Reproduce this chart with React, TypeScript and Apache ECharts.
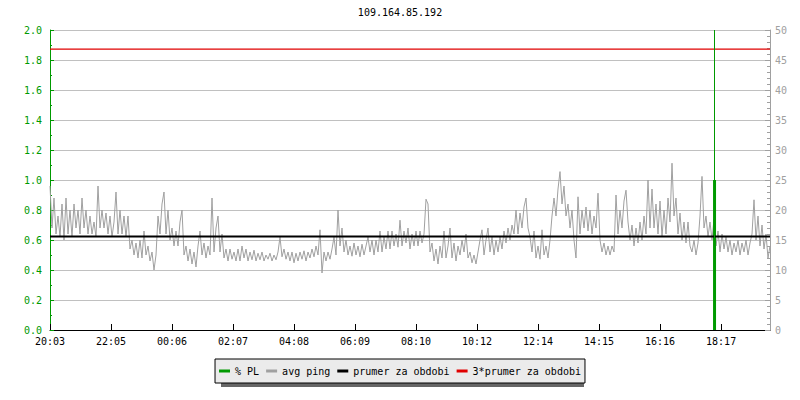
import React, { useEffect, useRef } from "react";
import * as echarts from "echarts";

const TITLE = "109.164.85.192";
const timeLabels = ["20:03", "22:05", "00:06", "02:07", "04:08", "06:09", "08:10", "10:12", "12:14", "14:15", "16:16", "18:17"];
const TICK_STEP_MIN = 121;
const SPAN_MIN = 1428;
const PING_STEP_MIN = SPAN_MIN / 360;

// avg ping (ms, right axis), one reading every PING_STEP_MIN minutes
const pingValues = [
  24, 17, 22, 16, 19, 15.5, 21, 15, 22, 16,
  20, 15.5, 21, 17, 20, 16, 22, 17, 20, 16,
  19, 16, 18, 15.5, 24, 17, 20, 17, 19.5, 16,
  19, 15.5, 18, 23, 16, 20, 16, 19, 15.5, 19,
  13.5, 15, 12.5, 14.5, 12, 15, 12, 16.5, 12.5, 14,
  11.5, 13, 10, 12.5, 19, 16, 21, 23, 16, 20,
  15, 17, 14, 16.5, 14, 18, 20, 12.5, 14, 11.5,
  13.5, 11, 13, 10.5, 14, 16.5, 12.5, 14.5, 12, 14,
  12.5, 22, 13, 17, 19, 13, 16, 12, 13.5, 11.5,
  13.5, 11.8, 13, 11.5, 13.5, 11.5, 14, 12, 13.5, 11.5,
  13, 11.7, 13.3, 11.5, 12.8, 11.7, 13, 11.5, 12.5, 11.8,
  12.8, 11.5, 12.5, 11.7, 13, 15.5, 12.2, 13.5, 11.8, 13,
  11.5, 13, 11.2, 12.8, 11.5, 13, 11.8, 13.2, 11.5, 13,
  12, 13.5, 12.2, 14, 12.5, 16.7, 9.5, 13, 11.5, 13,
  11.8, 13.5, 15.5, 12.5, 20, 14, 17, 13, 15, 12.5,
  14, 12.3, 14.5, 12.5, 14, 12.2, 14.3, 12.5, 14, 15.5,
  13, 15, 12.5, 15, 13, 16.5, 13, 15.5, 13.5, 16.5,
  13.5, 16.5, 14, 16, 13.8, 18.3, 14, 16.5, 14.5, 17,
  13.5, 16, 14, 16.5, 14, 16.5, 14.5, 16, 21.8, 21,
  13, 14.5, 11.5, 13.5, 11, 14, 12, 16.5, 12, 14,
  17, 12, 14.5, 11.5, 14, 12.5, 15, 13, 16, 12,
  13, 11.2, 12.5, 11, 13, 15, 16.7, 12.5, 15, 17,
  13, 15.5, 12.5, 15, 13, 15.5, 13.5, 16.5, 14.5, 17,
  15, 17.5, 16, 20, 16, 19.5, 17, 20.5, 22, 17,
  15.5, 13, 16.5, 12, 14, 11.8, 16.7, 12.5, 14, 12,
  15, 19, 22, 19, 23.5, 26.4, 21, 24, 19, 21,
  17, 20, 15, 12, 22.2, 16, 20, 17, 20.5, 16.5,
  20, 16, 19, 17, 22.8, 15, 13, 14.5, 12.5, 14,
  12.5, 14, 13, 22.5, 16, 20, 17, 21.5, 23.3, 18,
  15, 17.5, 14, 17, 14.5, 18, 15, 19, 16, 25,
  17, 23.5, 17, 21, 16, 21.5, 15.5, 20, 16, 22,
  18, 27.8, 19, 22, 16, 19.5, 15, 18, 14.5, 18,
  14, 13, 15, 12.5, 14.5, 19, 25.6, 17, 19, 15.5,
  18, 15, 18.5, 14, 16.5, 13, 16, 13.5, 15.5, 13,
  15, 12.5, 14.5, 13, 15, 12.5, 14.5, 13, 15, 12.5,
  14.5, 16, 21.7, 15, 19, 14, 17.5, 13.5, 16, 12,
  14,
];

const avgPing = 15.6;
const plTimes = [1318];
const plValues = [1.0];

export default function App() {
  const ref = useRef<HTMLDivElement>(null);
  useEffect(() => {
    const chart = echarts.init(ref.current!, null, { renderer: "svg" });
    const font = "DejaVu Sans Mono";
    const green = "#009900";
    const gray = "#a0a0a0";
    const option: any = {
      animation: false,
      backgroundColor: "#ffffff",
      title: {
        text: TITLE,
        left: "center",
        top: 2,
        textStyle: { fontFamily: font, fontSize: 10, fontWeight: "normal", color: "#000" },
      },
      grid: { left: 50, right: 30, top: 30, bottom: 70 },
      legend: {
        data: ["% PL", "avg ping", "prumer za obdobi", "3*prumer za obdobi"],
        left: "center",
        top: 359,
        icon: "rect",
        itemWidth: 11,
        itemHeight: 3,
        itemGap: 7,
        padding: [7, 4],
        backgroundColor: "#ebebeb",
        borderColor: "#000",
        borderWidth: 1,
        borderRadius: 0,
        z: 10,
        textStyle: { fontFamily: font, fontSize: 10, color: "#000" },
      },
      graphic: [
        {
          type: "rect",
          z: 1,
          shape: { x: 221, y: 363, width: 363, height: 24 },
          style: { fill: "#666" },
        },
      ],
      xAxis: {
        type: "value",
        min: 0,
        max: SPAN_MIN,
        interval: TICK_STEP_MIN,
        axisLine: { lineStyle: { color: "#000", width: 1 } },
        axisTick: { inside: true, length: 6, lineStyle: { color: "#000" } },
        axisLabel: {
          fontFamily: font,
          fontSize: 10,
          color: "#000",
          margin: 6,
          showMaxLabel: false,
          formatter: (v: number) => {
            const k = Math.round(v / TICK_STEP_MIN);
            return Math.abs(v - k * TICK_STEP_MIN) < 0.01 ? timeLabels[k] ?? "" : "";
          },
        },
        splitLine: { show: false },
      },
      yAxis: [
        {
          type: "value",
          position: "left",
          min: 0,
          max: 2,
          interval: 0.2,
          axisLine: { show: true, lineStyle: { color: green } },
          axisTick: { show: true, inside: true, length: 4, lineStyle: { color: green } },
          minorTick: { show: true, splitNumber: 2, length: 2, lineStyle: { color: green } },
          axisLabel: { color: green, fontFamily: font, fontSize: 10, margin: 8, formatter: (v: number) => v.toFixed(1) },
          splitLine: { show: true, lineStyle: { color: "#c0c0c0", width: 1 } },
        },
        {
          type: "value",
          position: "right",
          min: 0,
          max: 50,
          interval: 5,
          axisLine: { show: true, lineStyle: { color: gray } },
          axisTick: { show: true, inside: true, length: 5, lineStyle: { color: gray } },
          minorTick: { show: true, splitNumber: 5, length: 3, lineStyle: { color: gray } },
          axisLabel: { color: gray, fontFamily: font, fontSize: 10, margin: 5 },
          splitLine: { show: false },
        },
      ],
      series: [
        {
          name: "avg ping",
          type: "line",
          yAxisIndex: 1,
          data: pingValues.map((v, i) => [i * PING_STEP_MIN, v]),
          showSymbol: false,
          symbol: "none",
          color: gray,
          lineStyle: { color: gray, width: 1 },
          z: 2,
        },
        {
          name: "% PL",
          type: "bar",
          yAxisIndex: 0,
          data: plTimes.map((t, i) => [t, plValues[i]]),
          barWidth: 3,
          color: green,
          itemStyle: { color: green },
          z: 3,
          markLine: {
            silent: true,
            symbol: ["none", "none"],
            label: { show: false },
            lineStyle: { color: green, width: 1, type: "solid" },
            data: [{ xAxis: plTimes[0] }],
          },
        },
        {
          name: "prumer za obdobi",
          type: "line",
          yAxisIndex: 1,
          data: [[0, avgPing], [SPAN_MIN, avgPing]],
          symbol: "none",
          color: "#000",
          lineStyle: { color: "#000", width: 2 },
          z: 4,
        },
        {
          name: "3*prumer za obdobi",
          type: "line",
          yAxisIndex: 1,
          data: [[0, avgPing * 3], [SPAN_MIN, avgPing * 3]],
          symbol: "none",
          color: "#e00000",
          lineStyle: { color: "#e00000", width: 1.2 },
          z: 4,
        },
      ],
    };
    chart.setOption(option);
    return () => chart.dispose();
  }, []);
  return <div ref={ref} style={{ position: "absolute", left: 0, top: 0, width: 800, height: 400 }} />;
}
